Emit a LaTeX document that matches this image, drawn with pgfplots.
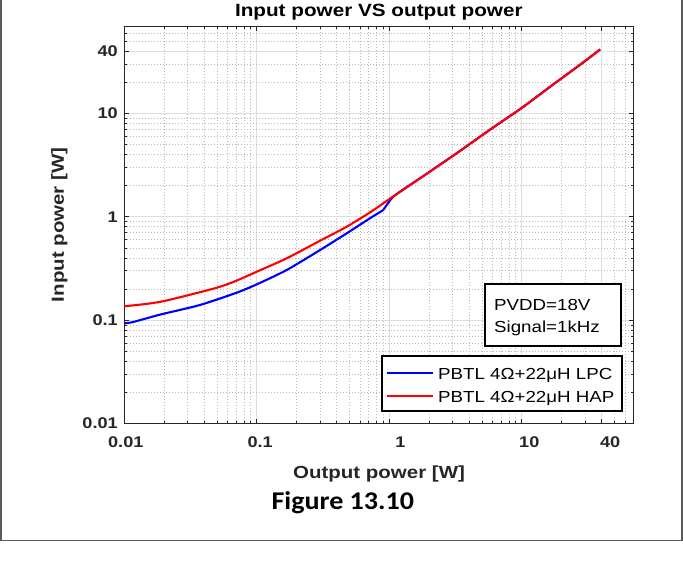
\documentclass[border=0pt]{standalone}
\usepackage{fontspec}
\setmainfont{Liberation Sans}[FakeStretch=1.17]
\newfontfamily\figfont{Carlito}[FakeStretch=1.1]
\usepackage{pgfplots}
\pgfplotsset{compat=1.18}
\definecolor{axgray}{RGB}{38,38,38}
\definecolor{framegray}{RGB}{90,90,90}
\definecolor{majgrid}{RGB}{222,222,222}
\definecolor{mingrid}{RGB}{185,185,185}
\pgfplotstableread{
x y
0.01 0.093
0.0117 0.096
0.0186 0.113
0.0372 0.140
0.0703 0.184
0.1 0.222
0.168 0.305
0.3 0.476
0.476 0.69
0.714 0.966
0.9 1.16
}\lpca
\pgfplotstableread{
x y
0.9 1.16
1.08 1.58
1.81 2.48
3.23 4.12
5.75 6.95
10 11.3
17.3 19.1
27.5 29.5
39 41.5
}\lpcb
\pgfplotstableread{
x y
0.01 0.136
0.015 0.144
0.02 0.153
0.033 0.179
0.05 0.206
0.066 0.233
0.1 0.294
0.168 0.396
0.3 0.586
0.476 0.80
0.714 1.10
1.0 1.48
1.81 2.48
3.23 4.12
5.75 6.95
10 11.3
17.3 19.1
27.5 29.5
39 41.5
}\hap
\begin{document}
\begin{tikzpicture}[x=1pt,y=1pt]
\useasboundingbox (0,0) rectangle (683,563);
\draw[framegray, line width=1.5pt] (1,563) -- (1,22.5) -- (682,22.5) -- (682,563);
\begin{axis}[
  at={(124.3pt,139.5pt)}, anchor=south west,
  scale only axis, width=509.5pt, height=397.5pt,
  xmode=log, ymode=log,
  xmin=0.01, xmax=70, ymin=0.01, ymax=70,
  xtick={0.01,0.1,1,10,40},
  xticklabels={\hspace*{3pt}0.01,\hspace*{6.6pt}0.1,\hspace*{22pt}1,\hspace*{15pt}10,\hspace*{17pt}40},
  ytick={0.01,0.1,1,10,40},
  yticklabels={0.01,0.1,1,10,40},
  minor xtick={0.02,0.03,0.04,0.05,0.06,0.07,0.08,0.09,0.2,0.3,0.4,0.5,0.6,0.7,0.8,0.9,2,3,4,5,6,7,8,9,20,30,50,60},
  minor ytick={0.02,0.03,0.04,0.05,0.06,0.07,0.08,0.09,0.2,0.3,0.4,0.5,0.6,0.7,0.8,0.9,2,3,4,5,6,7,8,9,20,30,50,60},
  grid=both,
  major grid style={draw=majgrid, line width=0.9pt},
  minor grid style={draw=mingrid, line width=0.6pt, dash pattern=on 1pt off 2pt},
  tick pos=both, tick align=inside,
  major tick length=5pt, minor tick length=3pt,
  tick style={axgray, line width=0.7pt},
  axis line style={axgray, line width=0.9pt},
  xticklabel style={font=\bfseries\fontsize{15.5}{15.5}\selectfont, text=axgray, yshift=-10pt},
  yticklabel style={font=\bfseries\fontsize{15.5}{15.5}\selectfont, text=axgray, xshift=-3pt},
  xlabel={Output power [W]},
  xlabel style={at={([yshift=-54.5pt]axis description cs:0.5,0)}, anchor=base, font=\bfseries\fontsize{17.5}{17.5}\selectfont, text=axgray},
  ylabel={Input power [W]},
  ylabel style={at={([xshift=-60.3pt]axis description cs:0,0.5)}, rotate=0, anchor=base, font=\bfseries\fontsize{17.5}{17.5}\selectfont, text=axgray},
]
\addplot[blue, line width=2.1pt, smooth, tension=0.4] table[x=x,y=y] {\lpca};
\addplot[blue, line width=2.1pt, smooth, tension=0.3] table[x=x,y=y] {\lpcb};
\addplot[red, line width=2.1pt, smooth, tension=0.4] table[x=x,y=y] {\hap};
% text box
\draw[black, line width=1.4pt, fill=white] (rel axis cs:0.7076,0.195) rectangle (rel axis cs:0.9749,0.3509);
\node[anchor=base west, font=\fontsize{16}{16}\selectfont, inner sep=0pt] at (rel axis cs:0.7256,0.2855) {PVDD=18V};
\node[anchor=base west, font=\fontsize{16}{16}\selectfont, inner sep=0pt] at (rel axis cs:0.7256,0.2284) {Signal=1kHz};
% legend
\draw[black, line width=1.4pt, fill=white] (rel axis cs:0.5057,0.0314) rectangle (rel axis cs:0.9768,0.1698);
\draw[blue, line width=2.1pt] (rel axis cs:0.5156,0.1270) -- (rel axis cs:0.6059,0.1270);
\draw[red, line width=2.1pt] (rel axis cs:0.5156,0.0692) -- (rel axis cs:0.6059,0.0692);
\node[anchor=base west, font=\fontsize{16}{16}\selectfont, inner sep=0pt] at (rel axis cs:0.6157,0.1119) {PBTL 4Ω+22μH LPC};
\node[anchor=base west, font=\fontsize{16}{16}\selectfont, inner sep=0pt] at (rel axis cs:0.6157,0.0541) {PBTL 4Ω+22μH HAP};
\end{axis}
\node[anchor=base, font=\bfseries\fontsize{17.7}{17.7}\selectfont, inner sep=0pt] at (378.8,546) {Input power VS output power};
\node[anchor=base, font=\figfont\bfseries\fontsize{25.5}{25.5}\selectfont] at (342.8,53.7) {Figure 13.10};
\end{tikzpicture}
\end{document}
